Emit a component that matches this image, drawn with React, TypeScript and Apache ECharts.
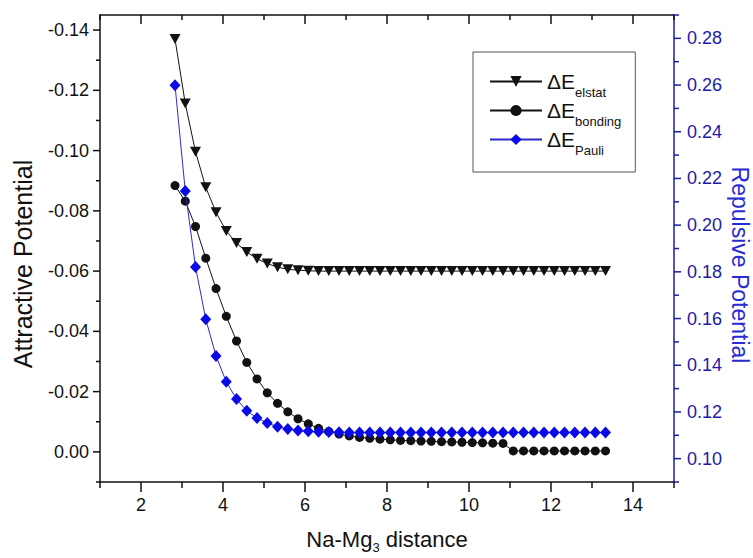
import React, { useEffect, useRef } from 'react';
import * as echarts from 'echarts';

// Na–Mg3 separation for each computed point
const distance = [
  2.83, 3.08, 3.33, 3.58, 3.83, 4.08, 4.33, 4.58, 4.83, 5.08, 5.33,
  5.58, 5.83, 6.08, 6.33, 6.58, 6.83, 7.08, 7.33, 7.58, 7.83, 8.08,
  8.33, 8.58, 8.83, 9.08, 9.33, 9.58, 9.83, 10.08, 10.33, 10.58, 10.83,
  11.08, 11.33, 11.58, 11.83, 12.08, 12.33, 12.58, 12.83, 13.08, 13.33,
];

// Attractive terms (left axis, plotted downward-negative)
const elstat = [
  -0.137, -0.1156, -0.0996, -0.0878, -0.0795, -0.0733, -0.0693, -0.0663,
  -0.0641, -0.0625, -0.0613, -0.0606, -0.0603, -0.0601, -0.06, -0.06,
  -0.06, -0.06, -0.06, -0.06, -0.06, -0.06, -0.06, -0.06, -0.06, -0.06,
  -0.06, -0.06, -0.06, -0.06, -0.06, -0.06, -0.06, -0.06, -0.06, -0.06,
  -0.06, -0.06, -0.06, -0.06, -0.06, -0.06, -0.06,
];

const bonding = [
  -0.0884, -0.0832, -0.0748, -0.0643, -0.0542, -0.045, -0.0368, -0.0297,
  -0.0242, -0.0196, -0.0161, -0.0133, -0.011, -0.0093, -0.0078, -0.0068,
  -0.0059, -0.0053, -0.0048, -0.0045, -0.0042, -0.004, -0.0038, -0.0037,
  -0.0036, -0.0035, -0.0034, -0.0033, -0.0032, -0.0031, -0.003, -0.0029,
  -0.0028, -0.0003, -0.0003, -0.0003, -0.0003, -0.0003, -0.0003, -0.0003,
  -0.0003, -0.0003, -0.0003,
];

// Repulsive term (right axis)
const pauli = [
  0.2599, 0.2146, 0.1821, 0.1597, 0.144, 0.1329, 0.1255, 0.1205, 0.1174,
  0.1153, 0.1137, 0.1127, 0.1121, 0.1117, 0.1115, 0.1114, 0.1113, 0.1112,
  0.1112, 0.1112, 0.1112, 0.1112, 0.1112, 0.1112, 0.1112, 0.1112, 0.1112,
  0.1112, 0.1112, 0.1112, 0.1112, 0.1112, 0.1112, 0.1112, 0.1112, 0.1112,
  0.1112, 0.1112, 0.1112, 0.1112, 0.1112, 0.1112, 0.1112,
];

// Tick positions
const xMajor = [2, 4, 6, 8, 10, 12, 14];
const xMinor = [1, 3, 5, 7, 9, 11, 13, 15];
const leftMajor = [-0.14, -0.12, -0.1, -0.08, -0.06, -0.04, -0.02, 0];
const leftMinor = [-0.13, -0.11, -0.09, -0.07, -0.05, -0.03, -0.01, 0.01];
const rightMajor = [0.1, 0.12, 0.14, 0.16, 0.18, 0.2, 0.22, 0.24, 0.26, 0.28];
const rightMinor = [0.09, 0.11, 0.13, 0.15, 0.17, 0.19, 0.21, 0.23, 0.25, 0.27, 0.29];

const FONT = '"Liberation Sans", Arial, sans-serif';
const BLACK = '#111111';
const AXIS_BLUE = '#1c1ca6';
const MARK_BLUE = '#0a0ae6';

const X_MIN = 1;
const X_MAX = 15;
const LEFT_MIN = -0.145;
const LEFT_MAX = 0.01;
const RIGHT_MIN = 0.09;
const RIGHT_MAX = 0.29;

const off = { show: false };

// Tick marks along the bottom (outward) and top (inward) frame edges
function xTicks(values: number[], outLen: number, inLen: number) {
  return {
    type: 'custom', xAxisIndex: 0, yAxisIndex: 0, clip: false, silent: true, z: 10,
    data: values.map((v) => [v, LEFT_MAX]),
    encode: { x: 0, y: 1 },
    renderItem: (_p: any, api: any) => {
      const v = api.value(0);
      const [x, yBottom] = api.coord([v, LEFT_MAX]);
      const yTop = api.coord([v, LEFT_MIN])[1];
      const style = { stroke: BLACK, lineWidth: 1.5 };
      return {
        type: 'group',
        children: [
          { type: 'line', shape: { x1: x, y1: yBottom, x2: x, y2: yBottom + outLen }, style },
          { type: 'line', shape: { x1: x, y1: yTop, x2: x, y2: yTop + inLen }, style },
        ],
      };
    },
  };
}

// Tick marks pointing outward from the left (black) or right (blue) axis
function yTicks(values: number[], side: 'left' | 'right', len: number) {
  const axisIndex = side === 'left' ? 0 : 1;
  const xAt = side === 'left' ? X_MIN : X_MAX;
  const color = side === 'left' ? BLACK : AXIS_BLUE;
  const dir = side === 'left' ? -1 : 1;
  return {
    type: 'custom', xAxisIndex: 0, yAxisIndex: axisIndex, clip: false, silent: true, z: 10,
    data: values.map((v) => [xAt, v]),
    encode: { x: 0, y: 1 },
    renderItem: (_p: any, api: any) => {
      const [x, y] = api.coord([api.value(0), api.value(1)]);
      return {
        type: 'line',
        shape: { x1: x, y1: y, x2: x + dir * len, y2: y },
        style: { stroke: color, lineWidth: 1.5 },
      };
    },
  };
}

export default function App() {
  const ref = useRef<HTMLDivElement>(null);

  useEffect(() => {
    if (!ref.current) return;
    const chart = echarts.init(ref.current, undefined, { renderer: 'svg' });

    const option: any = {
      animation: false,
      backgroundColor: '#ffffff',
      grid: { left: 100, top: 15, width: 574, height: 467, containLabel: false },
      xAxis: [
        {
          type: 'value', position: 'bottom', min: X_MIN, max: X_MAX,
          axisLine: { show: true, onZero: false, lineStyle: { color: BLACK, width: 1.5 } },
          axisTick: off,
          axisLabel: {
            show: true, customValues: xMajor, margin: 14, fontSize: 18,
            fontFamily: FONT, color: BLACK,
          },
          splitLine: off,
        },
        {
          type: 'value', position: 'top', min: X_MIN, max: X_MAX,
          axisLine: { show: true, onZero: false, lineStyle: { color: BLACK, width: 1.5 } },
          axisTick: off, axisLabel: off, splitLine: off,
        },
      ],
      yAxis: [
        {
          type: 'value', position: 'left', inverse: true, min: LEFT_MIN, max: LEFT_MAX,
          axisLine: { show: true, onZero: false, lineStyle: { color: BLACK, width: 1.5 } },
          axisTick: off,
          axisLabel: {
            show: true, customValues: leftMajor, margin: 11, fontSize: 18,
            fontFamily: FONT, color: BLACK,
            formatter: (v: number) => v.toFixed(2),
          },
          splitLine: off,
        },
        {
          type: 'value', position: 'right', min: RIGHT_MIN, max: RIGHT_MAX,
          axisLine: { show: true, onZero: false, lineStyle: { color: AXIS_BLUE, width: 1.5 } },
          axisTick: off,
          axisLabel: {
            show: true, customValues: rightMajor, margin: 13, fontSize: 18,
            fontFamily: FONT, color: AXIS_BLUE,
            formatter: (v: number) => v.toFixed(2),
          },
          splitLine: off,
        },
      ],
      legend: {
        left: 473,
        top: 52,
        orient: 'vertical',
        padding: [19, 14, 15, 16],
        itemGap: 1,
        itemWidth: 52,
        itemHeight: 14,
        borderColor: '#555555',
        borderWidth: 1,
        backgroundColor: '#ffffff',
        data: ['elstat', 'bonding', 'Pauli'],
        formatter: (name: string) => `{d|ΔE}{s|${name}}`,
        textStyle: {
          fontFamily: FONT,
          color: BLACK,
          rich: {
            d: { fontSize: 21, lineHeight: 21, fontFamily: FONT, color: BLACK, verticalAlign: 'top' },
            s: { fontSize: 13, lineHeight: 13, fontFamily: FONT, color: BLACK, padding: [15, 0, 0, 0], verticalAlign: 'top' },
          },
        },
      },
      graphic: [
        {
          type: 'text', x: 23, y: 264, rotation: Math.PI / 2,
          style: {
            text: 'Attractive Potential', font: `25px ${FONT}`, fill: BLACK,
            align: 'center', verticalAlign: 'middle',
          },
        },
        {
          type: 'text', x: 739.5, y: 265, rotation: -Math.PI / 2,
          style: {
            text: 'Repulsive Potential', font: `23px ${FONT}`, fill: '#2a2ad2',
            align: 'center', verticalAlign: 'middle',
          },
        },
        {
          type: 'text', x: 387, y: 539,
          style: {
            text: '{a|Na-Mg}{b|3}{a| distance}',
            align: 'center', verticalAlign: 'middle',
            rich: {
              a: { fontSize: 22, lineHeight: 22, fontFamily: FONT, fill: BLACK, verticalAlign: 'top' },
              b: { fontSize: 13, lineHeight: 13, fontFamily: FONT, fill: BLACK, padding: [13, 0, 0, 0], verticalAlign: 'top' },
            },
          },
        },
      ],
      series: [
        xTicks(xMajor, 10, 9),
        xTicks(xMinor, 6, 5),
        yTicks(leftMajor, 'left', 7),
        yTicks(leftMinor, 'left', 4),
        yTicks(rightMajor, 'right', 7),
        yTicks(rightMinor, 'right', 5),
        {
          name: 'elstat', type: 'line', xAxisIndex: 0, yAxisIndex: 0,
          data: distance.map((x, i) => [x, elstat[i]]),
          symbol: 'triangle', symbolRotate: 180, symbolSize: [11, 10],
          lineStyle: { color: BLACK, width: 1 },
          itemStyle: { color: BLACK },
          z: 3,
        },
        {
          name: 'bonding', type: 'line', xAxisIndex: 0, yAxisIndex: 0,
          data: distance.map((x, i) => [x, bonding[i]]),
          symbol: 'circle', symbolSize: 9,
          lineStyle: { color: BLACK, width: 1 },
          itemStyle: { color: BLACK },
          z: 2,
        },
        {
          name: 'Pauli', type: 'line', xAxisIndex: 0, yAxisIndex: 1,
          data: distance.map((x, i) => [x, pauli[i]]),
          symbol: 'diamond', symbolSize: [11, 12],
          lineStyle: { color: '#2c2cc8', width: 1 },
          itemStyle: { color: MARK_BLUE },
          z: 4,
        },
      ],
    };

    chart.setOption(option);
    return () => chart.dispose();
  }, []);

  return (
    <div
      ref={ref}
      style={{ position: 'absolute', left: 0, top: 0, width: 753, height: 558 }}
    />
  );
}
